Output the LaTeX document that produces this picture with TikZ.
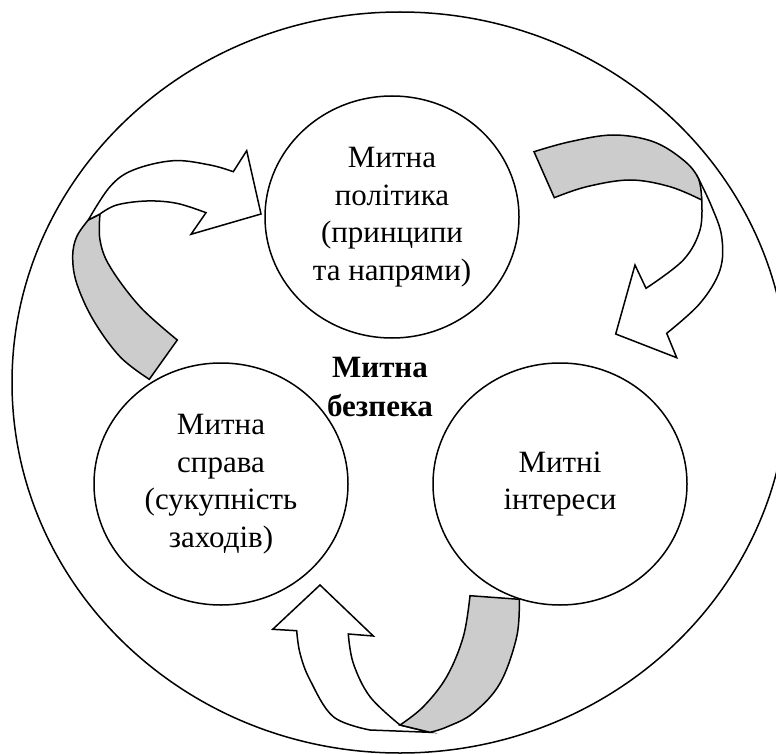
\documentclass[tikz,border=0pt]{standalone}
\usepackage{fontspec}
\setmainfont{Liberation Serif}
\usetikzlibrary{shapes.geometric}
\definecolor{bandgray}{RGB}{204,204,204}
\begin{document}
\begin{tikzpicture}[x=1pt,y=-1pt, line width=1.5pt, line join=miter,
  bubble/.style={draw, ellipse, minimum width=254pt, minimum height=242pt, inner sep=0pt, align=center, font=\fontsize{31}{37.5}\selectfont},
  back/.style={draw, fill=bandgray},
  front/.style={draw, fill=white},
  centrelabel/.style={align=center, font=\fontsize{31}{39}\selectfont\bfseries}]
\useasboundingbox (0,0) rectangle (776,754);
% outer ellipse
\node[draw, ellipse, minimum width=776pt, minimum height=741pt, inner sep=0pt] (outer) at (400,382.5) {};

% circles
\node[bubble] (policy) at (392,217) {Митна\\політика\\(принципи\\та напрями)};
\node[bubble] (affairs) at (221,484) {Митна\\справа\\(сукупність\\заходів)};
\node[bubble] (interests) at (560,484) {Митні\\інтереси};
\node[centrelabel] (security) at (380,387) {Митна\\безпека};

% arrow 1 (left, up to policy)
\draw[back] (149.3,379.3) -- (177.3,340)
  -- plot[smooth, tension=0.6] coordinates {(177.3,340) (140,306.7) (110,266.7) (100,240) (100,214)}
  -- (88.3,220)
  -- plot[smooth, tension=0.6] coordinates {(88.3,220) (76.7,236.7) (72.7,256.7) (76.7,283.3) (93.3,320) (120,356.7) (149.3,379.3)}
  -- cycle;
\draw[front] (88.3,220)
  -- plot[smooth, tension=0.6] coordinates {(88.3,220) (110,186.7) (133.3,170) (173.3,160.7) (210,165) (233.3,171.7)}
  -- (246.7,150.7) -- (261,214) -- (191,234.3) -- (206,212.7)
  -- plot[smooth, tension=0.6] coordinates {(206,212.7) (176.7,203.3) (146.7,201) (116.7,205) (100,214)}
  -- cycle;

% arrow 2 (top right, down to interests)
\draw[front] (698.3,178.3)
  -- plot[smooth, tension=0.6] coordinates {(698.3,178.3) (711.7,206.7) (721.7,236.7) (720,270) (700,303.3) (666.7,333.3)}
  -- (676.7,357.7) -- (615.7,334) -- (635,265) -- (646,288.3)
  -- plot[smooth, tension=0.6] coordinates {(646,288.3) (683.3,260) (700,230) (701.7,200)}
  -- cycle;
\draw[back] (534,151.7)
  -- plot[smooth, tension=0.6] coordinates {(534,151.7) (570,141.7) (613.3,135) (653.3,141.7) (683.3,160) (698.3,178.3) (701.7,200)}
  -- plot[smooth, tension=0.6] coordinates {(701.7,200) (670,186.7) (630,180) (586.7,186.7) (554.3,197.7)}
  -- cycle;

% arrow 3 (bottom, up to affairs)
\draw[front] (400,725) -- (430,732.3) -- (370,730)
  -- plot[smooth, tension=0.6] coordinates {(370,730) (333.3,716.7) (310,680) (300,653.3) (296.7,630.7)}
  -- (272.7,629.3) -- (320,585) -- (373.3,636) -- (348.3,634)
  -- plot[smooth, tension=0.6] coordinates {(348.3,634) (353.3,663.3) (370,696.7) (400,725)}
  -- cycle;
\draw[back] (470,595.7)
  -- plot[smooth, tension=0.6] coordinates {(470,595.7) (463.3,636.7) (446.7,676.7) (423.3,706.7) (400,725)}
  -- (430,732.3)
  -- plot[smooth, tension=0.6] coordinates {(430,732.3) (446.7,727) (473.3,713) (500,683.3) (516.7,636.7) (519.3,599.3)}
  -- cycle;
\end{tikzpicture}
\end{document}
